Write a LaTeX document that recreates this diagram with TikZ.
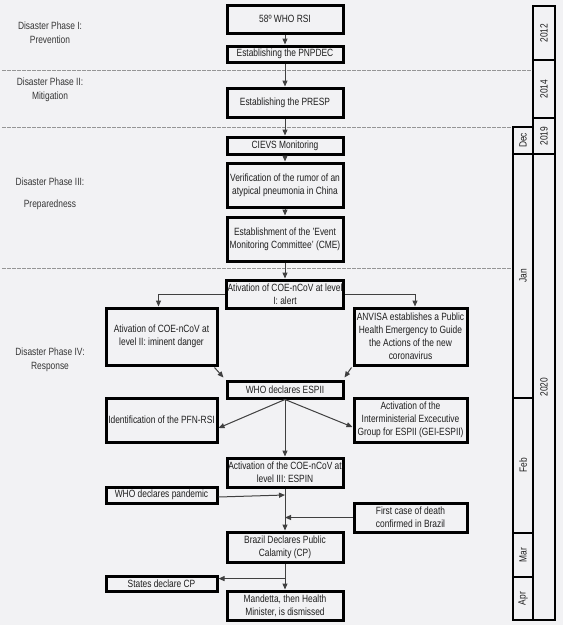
\documentclass[tikz,border=0pt]{standalone}
\usepackage{fontspec}
\setmainfont[FakeStretch=0.8]{Liberation Sans}
\usetikzlibrary{arrows.meta,calc}
\definecolor{bg}{RGB}{242,242,244}
\definecolor{ink}{RGB}{30,30,30}
\definecolor{rule}{RGB}{150,150,150}
\tikzset{
  evbox/.style={draw=black,line width=3pt,fill=bg,align=center,inner sep=1pt,
    font=\fontsize{10.5}{13}\selectfont,text=ink},
  conn/.style={draw=ink!85,line width=1pt,-{Triangle[length=6pt,width=5pt]}},
  phase/.style={align=center,font=\fontsize{10.5}{14}\selectfont,text=ink!90},
  colbox/.style={draw=black,line width=2.8pt,fill=bg,font=\fontsize{10.5}{12}\selectfont,text=ink,inner sep=0pt},
  sep/.style={draw=rule,line width=1pt,dash pattern=on 4pt off 1pt}
}
\begin{document}
\begin{tikzpicture}[x=1pt,y=-1pt]
\fill[bg] (0,0) rectangle (563,625);
\useasboundingbox (0,0) rectangle (563,625);
% separators
\coordinate (s1a) at (2,70); \coordinate (s1b) at (533,70);
\coordinate (s2a) at (2,127); \coordinate (s2b) at (513,127);
\coordinate (s3a) at (2,268); \coordinate (s3b) at (513,268);
\draw[sep] (s1a) -- (s1b);
\draw[sep] (s2a) -- (s2b);
\draw[sep] (s3a) -- (s3b);
% phase labels
\node[phase] (p1) at (50,33) {Disaster Phase I:\\Prevention};
\node[phase] (p2) at (50,89.5) {Disaster Phase II:\\Mitigation};
\node[phase,font=\fontsize{10.5}{22}\selectfont] (p3) at (50,194) {Disaster Phase III:\\Preparedness};
\node[phase] (p4) at (50,360) {Disaster Phase IV:\\Response};
% boxes
\node[evbox,minimum width=116pt,minimum height=28pt] (who) at (285,19) {58º WHO RSI};
\node[evbox,minimum width=116pt,minimum height=16pt] (pnpdec) at (285,54) {Establishing the PNPDEC};
\node[evbox,minimum width=116pt,minimum height=29pt] (presp) at (285,102.5) {Establishing the PRESP};
\node[evbox,minimum width=116pt,minimum height=17pt] (cievs) at (285,145.5) {CIEVS Monitoring};
\node[evbox,minimum width=116pt,minimum height=44pt] (verif) at (285,185) {Verification of the rumor of an\\atypical pneumonia in China};
\node[evbox,minimum width=116pt,minimum height=44pt] (cme) at (285,239) {Establishment of the 'Event\\Monitoring Committee' (CME)};
\node[evbox,minimum width=116pt,minimum height=28pt] (coe1) at (285,294) {Ativation of COE-nCoV at level\\I: alert};
\node[evbox,minimum width=111pt,minimum height=57pt] (coe2) at (161.5,336.5) {Ativation of COE-nCoV at\\level II: iminent danger};
\node[evbox,minimum width=113pt,minimum height=57pt] (anvisa) at (410.5,336.5) {ANVISA establishes a Public\\Health Emergency to Guide\\the Actions of the new\\coronavirus};
\node[evbox,minimum width=116pt,minimum height=17pt] (espii) at (285,389.5) {WHO declares ESPII};
\node[evbox,minimum width=111pt,minimum height=44pt] (pfn) at (161.5,420) {Identification of the PFN-RSI};
\node[evbox,minimum width=113pt,minimum height=44pt] (gei) at (410.5,420) {Activation of the\\Interministerial Excecutive\\Group for ESPII (GEI-ESPII)};
\node[evbox,minimum width=116pt,minimum height=29pt] (coe3) at (285,472.5) {Activation of the COE-nCoV at\\level III: ESPIN};
\node[evbox,minimum width=111pt,minimum height=16pt] (pandemic) at (161.5,495) {WHO declares pandemic};
\node[evbox,minimum width=113pt,minimum height=29pt] (death) at (410.5,517.5) {First case of death\\confirmed in Brazil};
\node[evbox,minimum width=116pt,minimum height=30pt] (brazil) at (285,547) {Brazil Declares Public\\Calamity (CP)};
\node[evbox,minimum width=111pt,minimum height=15pt] (states) at (161.5,583.5) {States declare CP};
\node[evbox,minimum width=116pt,minimum height=29pt] (mandetta) at (285,605.5) {Mandetta, then Health\\Minister, is dismissed};
% connectors
\draw[conn] (who) -- (pnpdec);
\draw[conn] (pnpdec) -- (presp);
\draw[conn] (presp) -- (cievs);
\draw[conn] (cievs) -- (verif);
\draw[conn] (verif) -- (cme);
\draw[conn] (cme) -- (coe1);
\draw[conn] (coe1.west) -| ($(coe2.north)+(-3,0)$);
\draw[conn] (coe1.east) -| ($(anvisa.north)+(4.5,0)$);
\draw[conn] ($(coe2.south east)+(-4,1)$) -- ($(espii.north west)+(-2,-2)$);
\draw[conn] ($(anvisa.south west)+(-1,1)$) -- ($(espii.north east)+(0,-2)$);
\draw[conn] (espii.south) -- ($(pfn.east)+(0,8)$);
\draw[conn] (espii.south) -- ($(gei.west)+(0,7)$);
\draw[conn] (espii.south) -- (coe3.north);
\coordinate (j1) at ($(coe3.south)!0.22!(brazil.north)$);
\coordinate (j2) at ($(coe3.south)!0.7!(brazil.north)$);
\draw[conn] (coe3.south) -- (brazil.north);
\draw[conn] ($(pandemic.east)+(0,2)$) -- (pandemic.east -| j1);
\draw[conn] (death.west) -- (death.west -| j2);
\coordinate (j3) at ($(brazil.south)!0.58!(mandetta.north)$);
\draw[conn] (brazil.south) -- (mandetta.north);
\draw[conn] (j3) -- (j3 -| states.east);
% month column
\node[colbox,minimum width=20pt,minimum height=27pt] (dec) at (523,140.5) {\rotatebox{90}{Dec}};
\node[colbox,minimum width=20pt,minimum height=244pt] (jan) at (523,276) {\rotatebox{90}{Jan}};
\node[colbox,minimum width=20pt,minimum height=135pt] (feb) at (523,465.5) {\rotatebox{90}{Feb}};
\node[colbox,minimum width=20pt,minimum height=44pt] (mar) at (523,555) {\rotatebox{90}{Mar}};
\node[colbox,minimum width=20pt,minimum height=43pt] (apr) at (523,598.5) {\rotatebox{90}{Apr}};
% year column
\node[colbox,minimum width=22pt,minimum height=54pt] (y12) at (544,33) {\rotatebox{90}{2012}};
\node[colbox,minimum width=22pt,minimum height=58pt] (y14) at (544,89) {\rotatebox{90}{2014}};
\node[colbox,minimum width=22pt,minimum height=36pt] (y19) at (544,136) {\rotatebox{90}{2019}};
\node[colbox,minimum width=22pt,minimum height=466pt] (y20) at (544,387) {\rotatebox{90}{2020}};
\end{tikzpicture}
\end{document}
